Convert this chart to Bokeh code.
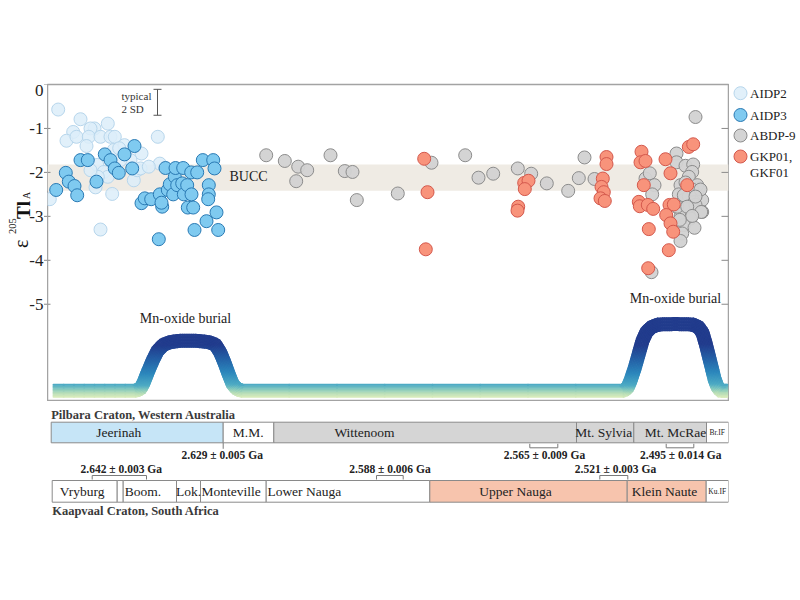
import numpy as np
from bokeh.plotting import figure
from bokeh.models import Range1d, Label
from bokeh.layouts import column, row
from bokeh.embed import file_html
from bokeh.resources import INLINE
from bokeh.core.properties import value

SERIF = "Liberation Serif"

# ---------------- data ----------------
# x: relative stratigraphic position along the composite section (0 - 681)
# y: epsilon 205Tl_A
aidp2_x = [10.7, 33, 60.3, 47, 43, 25.7, 19, 29, 41.3, 53, 63, 67.3, 39, 66.3, 77, 71.7, 94,
           110.3, 112.3, 49.7, 56.3, 60.3, 50.3, 48, 64.7, 86.3, 89.7, 93, 101.3, 2.3, 53, 83, 43, 73]
aidp2_y = [-0.57, -0.79, -0.89, -1.00, -1.00, -1.08, -1.28, -1.19, -1.19, -1.19, -1.19, -1.19, -1.40,
           -1.49, -1.38, -1.45, -1.57, -1.19, -1.80, -1.83, -1.99, -2.10, -2.10, -2.34, -2.49, -2.18,
           -1.95, -1.91, -1.87, -2.61, -3.30, -1.72, -1.95, -1.72]

aidp3_x = [8.7, 18.3, 21.3, 27, 29.7, 33, 40.3, 49, 57.3, 63, 67.3, 71.3, 77, 84.7, 87, 94, 97.3,
           103.7, 112.3, 111.3, 114.7, 114, 118, 120.3, 122.3, 125.7, 127.3, 128, 129.7, 134.7, 135.7,
           136.3, 139.7, 140.3, 143.7, 144, 145.7, 147, 149.7, 155.3, 159, 161.3, 161.3, 160.7, 165.7,
           167, 169, 170.7]
aidp3_y = [-2.40, -2.01, -2.21, -2.31, -2.52, -1.72, -1.72, -2.21, -1.59, -1.72, -1.91, -2.01, -1.59,
           -1.91, -1.40, -2.70, -2.59, -2.61, -2.50, -3.52, -2.78, -2.69, -1.90, -2.40, -2.27, -2.50,
           -2.10, -1.90, -2.29, -2.25, -1.90, -2.50, -2.29, -2.80, -2.00, -2.50, -2.80, -3.31, -2.00,
           -1.72, -3.11, -2.29, -2.50, -2.61, -1.72, -1.91, -2.91, -3.31]

abdp9_x = [218.7, 237.3, 250.7, 259.7, 248.7, 283, 297.3, 305, 309.3, 350.3, 384, 417.7, 431, 445.7,
           470.3, 483.7, 499.3, 520.7, 531.3, 537, 547, 598, 602.3, 607, 604.7, 604, 648, 629, 629, 638,
           645.7, 644.7, 641.3, 633, 651.3, 631.3, 643, 654.7, 636.3, 646.3, 631.3, 639.7, 651.3, 633,
           643, 636.3, 647, 634.7, 633, 638, 641.3, 648, 654.7, 649.7, 644.7, 653, 636.3, 648, 629.7,
           639.7, 653.7, 644.7, 632.3]
abdp9_y = [-1.61, -1.74, -1.87, -1.95, -2.20, -1.61, -1.97, -1.99, -2.63, -2.48, -1.78, -1.61, -2.12,
           -2.03, -1.91, -2.03, -2.25, -2.42, -2.13, -1.66, -2.15, -2.14, -2.02, -2.29, -2.50, -4.27,
           -0.74, -1.57, -1.77, -1.85, -1.82, -1.99, -2.10, -2.29, -2.36, -2.50, -2.45, -2.63, -2.63,
           -2.67, -2.82, -2.82, -2.88, -3.01, -3.05, -3.20, -3.26, -3.39, -3.56, -2.23, -2.55, -2.74,
           -2.90, -2.29, -2.39, -2.39, -2.52, -2.55, -2.78, -2.78, -2.90, -2.99, -3.08]

gkp_x = [376.7, 380, 378.3, 470.7, 470, 476.7, 481, 477.3, 559, 559, 555.3, 554, 556.3, 553, 557.3,
         594, 593, 598, 596.3, 591.3, 592.3, 600.3, 605.7, 601.3, 600.7, 618, 623, 622, 626.3, 618.7,
         623, 625.7, 621.3, 639.7, 641.3, 645.7]
gkp_y = [-1.69, -2.45, -3.75, -2.78, -2.87, -2.24, -2.19, -2.38, -1.65, -1.81, -2.14, -2.33, -2.45,
         -2.59, -2.65, -1.53, -1.77, -1.74, -2.29, -2.67, -2.77, -2.74, -2.83, -3.29, -4.18, -1.70,
         -2.02, -2.74, -2.73, -2.97, -3.16, -3.35, -3.77, -2.29, -1.42, -1.36]

SERIES = ["AIDP2", "AIDP3", "ABDP-9", "GKP01,", "GKF01"]

Y_TICKS = [0, -1, -2, -3, -4, -5]
Y_TICK_LABELS = ["0", "-1", "-2", "-3", "-4", "-5"]

BUCC_RANGE = (-2.42, -1.82)
SD_CENTER, SD_HALF = -0.405, 0.295

# Mn-oxide burial curve (relative burial intensity, in axis units above baseline)
MN_BASE = -6.97
MN_X = [6, 88, 93, 96, 100, 105, 110, 116, 123, 133, 148, 161, 168, 173, 177, 181, 185, 189, 194,
        576, 580, 583, 587, 591, 595, 599, 604, 611, 628, 645, 651, 655, 658, 661, 664, 667, 670, 673, 680]
MN_H = [0, 0, 0.05, 0.18, 0.41, 0.68, 0.91, 1.05, 1.11, 1.14, 1.14, 1.11, 1.05, 0.86, 0.64, 0.39,
        0.16, 0.05, 0, 0, 0.07, 0.23, 0.50, 0.82, 1.14, 1.34, 1.45, 1.51, 1.52, 1.51, 1.45, 1.32,
        1.09, 0.82, 0.55, 0.27, 0.09, 0, 0]

# Stratigraphy
PILBARA_UNITS = ["Jeerinah", "M.M.", "Wittenoom", "Mt. Sylvia", "Mt. McRae", "Br.IF"]
PILBARA_EDGES = [3.7, 175.7, 226.3, 529, 586.3, 659, 681]
PILBARA_COLORS = ["#c6e5f7", "#ffffff", "#d5d5d5", "#d5d5d5", "#d5d5d5", "#ffffff"]
PILBARA_LABEL_X = [71.3, 200.7, 317, 556.3, 628, 669.7]

KAAP_UNITS = ["Vryburg", "", "Boom.", "Lok.", "Monteville", "Lower Nauga", "Upper Nauga",
              "Klein Naute", "Ku.IF"]
KAAP_EDGES = [4.7, 69.7, 75.7, 129, 153, 218.7, 382.3, 579.7, 658.7, 681]
KAAP_COLORS = ["#ffffff"] * 6 + ["#f7c4ad", "#f7c4ad", "#ffffff"]
KAAP_LABEL_X = [34.7, 72.7, 95.5, 141, 183.5, 256.8, 468, 617, 669.7]

PIL_AGES = ["2.629 ± 0.005 Ga", "2.565 ± 0.009 Ga", "2.495 ± 0.014 Ga"]
PIL_AGE_X = [174.7, 497, 633.3]
PIL_AGE_SPAN = [(175.7, 175.7), (482.3, 510.3), (618.7, 646.3)]
KAAP_AGES = ["2.642 ± 0.003 Ga", "2.588 ± 0.006 Ga", "2.521 ± 0.003 Ga"]
KAAP_AGE_X = [73.8, 342.5, 568]
KAAP_AGE_SPAN = [(44.7, 99), (329, 355.7), (552.3, 580.3)]

# ---------------- layout constants (page pixels) ----------------
X_MAX = 681
Y_TOP, Y_BOT = 0.0, -7.19
W_LEFT = 47
TB1, BB1 = 84, 1
FRAME_H = 316
H1 = TB1 + FRAME_H + BB1
W1 = X_MAX + 1
WLEG = 800 - W_LEFT - W1
PX_Y = FRAME_H / (Y_TOP - Y_BOT)
YR = Range1d(Y_BOT, Y_TOP)


def page_y(py):
    """page pixel row -> value on the shared y scale"""
    return Y_TOP - (py - TB1) / PX_Y


def bare(fig):
    fig.grid.visible = False
    fig.outline_line_color = None
    fig.border_fill_color = "white"
    fig.background_fill_color = "white"


p = figure(width=W1, height=H1, x_range=Range1d(0, X_MAX), y_range=YR,
           output_backend="svg", toolbar_location=None, x_axis_location=None,
           y_axis_location=None, min_border_left=0, min_border_right=1,
           min_border_top=TB1, min_border_bottom=BB1)
bare(p)
p.outline_line_color = "#a3a3a3"
p.outline_line_width = 1.5

# inward ticks on both frame edges
rt = [t for t in Y_TICKS if t != 0]
p.segment(x0=[X_MAX - 7] * len(rt), x1=[X_MAX] * len(rt), y0=rt, y1=rt,
          line_color="#8a8a8a", line_width=1)
p.segment(x0=[0] * len(rt), x1=[3] * len(rt), y0=rt, y1=rt, line_color="#8a8a8a", line_width=1)

# BUCC band
p.quad(left=[0], right=[X_MAX], bottom=[BUCC_RANGE[0]], top=[BUCC_RANGE[1]],
       fill_color="#efebe4", line_color=None, level="underlay")
p.add_layout(Label(x=182, y=sum(BUCC_RANGE) / 2 + 0.02, text="BUCC", text_font=SERIF,
                   text_font_size="14px", text_color="#222222", text_baseline="middle"))

# typical 2 SD
p.segment(x0=[110], x1=[110], y0=[SD_CENTER - SD_HALF], y1=[SD_CENTER + SD_HALF],
          line_color="#555555", line_width=1)
p.segment(x0=[106, 106], x1=[114, 114], y0=[SD_CENTER - SD_HALF, SD_CENTER + SD_HALF],
          y1=[SD_CENTER - SD_HALF, SD_CENTER + SD_HALF], line_color="#555555", line_width=1)
p.add_layout(Label(x=74, y=-0.27, text="typical", text_font=SERIF, text_font_size="11px",
                   text_color="#333333", text_baseline="middle"))
p.add_layout(Label(x=74, y=-0.56, text="2 SD", text_font=SERIF, text_font_size="11px",
                   text_color="#333333", text_baseline="middle"))

# Mn-oxide burial gradient band
def hex2rgb(h):
    return np.array([int(h[i:i + 2], 16) for i in (1, 3, 5)], float)

STOP_V = np.array([-6, -2, 2, 6, 18, 32, 46])
STOP_C = np.array([hex2rgb(c) for c in ["#d8ebbb", "#b6ddb7", "#80c7be", "#4eabc4",
                                         "#2c87bc", "#2460a6", "#223c8d"]])

def grad_color(v):
    rgb = [np.interp(v, STOP_V, STOP_C[:, k]) for k in range(3)]
    return "#%02x%02x%02x" % tuple(int(round(c)) for c in rgb)

mx = np.array(MN_X, float)
mh = np.array(MN_H, float) * PX_Y
sub = 8
dx, dy = [], []
for i in range(len(mx) - 1):
    t = np.linspace(0, 1, sub, endpoint=False)
    dx.extend(mx[i] + (mx[i + 1] - mx[i]) * t)
    dy.extend(mh[i] + (mh[i + 1] - mh[i]) * t)
dx.append(mx[-1]); dy.append(mh[-1])
dx = np.array(dx); dy = np.array(dy)
tx = np.gradient(dx); ty = np.gradient(dy)
nn = np.hypot(tx, ty)
nx, ny = -ty / nn, tx / nn
X0, X1, Y0, Y1, COLS = [], [], [], [], []
for o in np.linspace(-6, 6, 9):
    sx = dx + nx * o
    sy = dy + ny * o
    X0.extend(sx[:-1]); X1.extend(sx[1:])
    Y0.extend(MN_BASE + sy[:-1] / PX_Y); Y1.extend(MN_BASE + sy[1:] / PX_Y)
    COLS.extend(grad_color(0.5 * (a + b)) for a, b in zip(sy[:-1], sy[1:]))
p.segment(x0=X0, x1=X1, y0=Y0, y1=Y1, line_color=COLS, line_width=2.0, line_cap="round")

p.add_layout(Label(x=138, y=-5.33, text="Mn-oxide burial", text_font=SERIF, text_font_size="14px",
                   text_color="#222222", text_align="center", text_baseline="middle"))
p.add_layout(Label(x=628, y=-4.86, text="Mn-oxide burial", text_font=SERIF, text_font_size="14px",
                   text_color="#222222", text_align="center", text_baseline="middle"))

# scatter series
STY = {
    "AIDP2": dict(fill_color="#dcedf9", line_color="#b7d6ec", fill_alpha=0.85),
    "AIDP3": dict(fill_color="#7fcaf0", line_color="#2a7ab4", fill_alpha=1.0),
    "ABDP-9": dict(fill_color="#d2d2d2", line_color="#8c8c8c", fill_alpha=0.95),
    "GKP01,": dict(fill_color="#f8937b", line_color="#d4584c", fill_alpha=1.0),
}
p.scatter(aidp2_x, aidp2_y, size=13, line_width=1, **STY["AIDP2"])
p.scatter(aidp3_x, aidp3_y, size=13, line_width=1, **STY["AIDP3"])
p.scatter(abdp9_x, abdp9_y, size=13, line_width=1, **STY["ABDP-9"])
p.scatter(gkp_x, gkp_y, size=13, line_width=1, **STY["GKP01,"])

# ---------- left panel: y-axis ticks, tick labels and the title ε^205 Tl_A ----------
pt = figure(width=W_LEFT, height=H1, x_range=Range1d(0, W_LEFT), y_range=YR,
            output_backend="svg", toolbar_location=None, x_axis_location=None,
            y_axis_location=None, min_border_left=0, min_border_right=0,
            min_border_top=TB1, min_border_bottom=BB1)
bare(pt)
pt.segment(x0=[43.5] * len(Y_TICKS), x1=[W_LEFT] * len(Y_TICKS), y0=Y_TICKS, y1=Y_TICKS,
           line_color="#8a8a8a", line_width=1)
pt.text(x=[43], y=Y_TICKS[:1], text=Y_TICK_LABELS[:1], text_font=value(SERIF),
        text_font_size=value("17px"), text_color="#222222", text_align="right",
        text_baseline="top")
pt.text(x=[43] * (len(Y_TICKS) - 1), y=Y_TICKS[1:], text=Y_TICK_LABELS[1:], text_font=value(SERIF),
        text_font_size=value("17px"), text_color="#222222", text_align="right",
        text_baseline="middle")

TITLE_PARTS = ["ε", "205", "Tl", "A"]
TITLE_BASE_X = [20.5, 12, 22.5, 26.3]
TITLE_START_PY = [247.5, 233.5, 218.5, 198.5]
TITLE_SIZE = ["20px", "10.5px", "19px", "10px"]
TITLE_STYLE = ["normal", "normal", "bold", "normal"]
for txt, bx_, sy_, fs, st in zip(TITLE_PARTS, TITLE_BASE_X, TITLE_START_PY, TITLE_SIZE, TITLE_STYLE):
    pt.text(x=[bx_], y=[page_y(sy_)], text=[txt], angle=np.pi / 2, text_font=value(SERIF),
            text_font_size=value(fs), text_font_style=st, text_color="#111111",
            text_align="left", text_baseline="alphabetic")

# ---------- legend panel ----------
pl = figure(width=WLEG, height=H1, x_range=Range1d(0, WLEG), y_range=YR,
            output_backend="svg", toolbar_location=None, x_axis_location=None,
            y_axis_location=None, min_border_left=0, min_border_right=0,
            min_border_top=TB1, min_border_bottom=BB1)
bare(pl)
LEG_PY = [92.7, 114.5, 135, 156, 172]
for name, py in zip(SERIES[:4], LEG_PY):
    pl.scatter([11], [page_y(py)], size=13, line_width=1, **STY[name])
pl.text(x=[20.5] * 5, y=[page_y(v) for v in LEG_PY], text=SERIES, text_font=value(SERIF),
        text_font_size=value("13px"), text_color="#222222", text_baseline="middle")

# ---------- stratigraphy panel (y in page pixels) ----------
P2_TOP = H1
H2 = 127
p2 = figure(width=800, height=H2, x_range=p.x_range, y_range=Range1d(P2_TOP + H2, P2_TOP),
            output_backend="svg", toolbar_location=None, x_axis_location=None,
            y_axis_location=None, min_border_left=W_LEFT, min_border_right=800 - W_LEFT - X_MAX,
            min_border_top=0, min_border_bottom=0)
bare(p2)

PIL_TOP, PIL_BOT = 421.7, 442.3
KAA_TOP, KAA_BOT = 480, 501.7

p2.quad(left=PILBARA_EDGES[:-1], right=PILBARA_EDGES[1:], top=PIL_TOP, bottom=PIL_BOT,
        fill_color=PILBARA_COLORS, line_color="#8a8a8a", line_width=1)
p2.quad(left=KAAP_EDGES[:-1], right=KAAP_EDGES[1:], top=KAA_TOP, bottom=KAA_BOT,
        fill_color=KAAP_COLORS, line_color="#8a8a8a", line_width=1)

big = [u for u in PILBARA_UNITS if "IF" not in u]
bigx = [x for u, x in zip(PILBARA_UNITS, PILBARA_LABEL_X) if "IF" not in u]
p2.text(x=bigx, y=[(PIL_TOP + PIL_BOT) / 2] * len(big), text=big, text_font=value(SERIF),
        text_font_size=value("13.5px"), text_color="#222222", text_align="center",
        text_baseline="middle")
bigk = [u for u in KAAP_UNITS if u and "IF" not in u]
bigkx = [x for u, x in zip(KAAP_UNITS, KAAP_LABEL_X) if u and "IF" not in u]
p2.text(x=bigkx, y=[(KAA_TOP + KAA_BOT) / 2] * len(bigk), text=bigk, text_font=value(SERIF),
        text_font_size=value("13.5px"), text_color="#222222", text_align="center",
        text_baseline="middle")
p2.text(x=[PILBARA_LABEL_X[-1], KAAP_LABEL_X[-1]],
        y=[(PIL_TOP + PIL_BOT) / 2, (KAA_TOP + KAA_BOT) / 2],
        text=[PILBARA_UNITS[-1], KAAP_UNITS[-1]], text_font=value(SERIF),
        text_font_size=value("7.5px"), text_color="#222222", text_align="center",
        text_baseline="middle")

p2.text(x=[3.7], y=[414], text=["Pilbara Craton, Western Australia"], text_font=value(SERIF),
        text_font_size=value("12.5px"), text_font_style="bold", text_color="#3a3a3a",
        text_baseline="middle")
p2.text(x=[4.7], y=[510], text=["Kaapvaal Craton, South Africa"], text_font=value(SERIF),
        text_font_size=value("12.5px"), text_font_style="bold", text_color="#3a3a3a",
        text_baseline="middle")

p2.text(x=PIL_AGE_X, y=[454] * 3, text=PIL_AGES, text_font=value(SERIF),
        text_font_size=value("11.5px"), text_font_style="bold", text_color="#222222",
        text_align="center", text_baseline="middle")
p2.text(x=KAAP_AGE_X, y=[468.3] * 3, text=KAAP_AGES, text_font=value(SERIF),
        text_font_size=value("11.5px"), text_font_style="bold", text_color="#222222",
        text_align="center", text_baseline="middle")

bx, by = [], []
for a, b in PIL_AGE_SPAN:
    if a == b:
        bx.append([a, a]); by.append([PIL_BOT, PIL_BOT + 6])
    else:
        bx.append([a, a, b, b]); by.append([PIL_BOT + 1, PIL_BOT + 5, PIL_BOT + 5, PIL_BOT + 1])
for a, b in KAAP_AGE_SPAN:
    bx.append([a, a, b, b]); by.append([KAA_TOP - 1, KAA_TOP - 5, KAA_TOP - 5, KAA_TOP - 1])
p2.multi_line(xs=bx, ys=by, line_color="#7a7a7a", line_width=1)

layout = column(row(pt, p, pl), p2)
open("out.html", "w").write(file_html(layout, INLINE))
